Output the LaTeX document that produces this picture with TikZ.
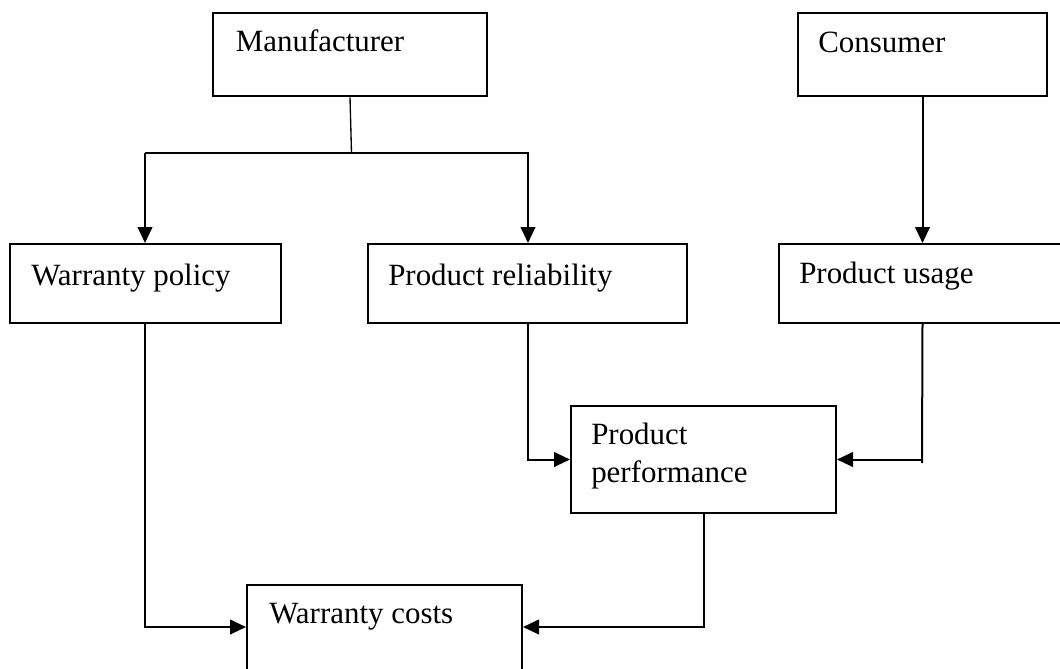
\documentclass[tikz,border=0pt]{standalone}
\usepackage{fontspec}
\setmainfont{Liberation Serif}
\usetikzlibrary{arrows.meta}
\begin{document}
\begin{tikzpicture}[x=0.75pt,y=-0.75pt,
  box/.style={draw, line width=1.5pt, rectangle, inner sep=0pt},
  txt/.style={anchor=base west, inner sep=0pt, font=\fontsize{23.2}{28.5}\selectfont},
  conn/.style={line width=1.5pt},
  arr/.style={conn, -{Triangle[length=12pt,width=11pt]}}]
\useasboundingbox (0,0) rectangle (1060,668);
\clip (0,0) rectangle (1060,668);
% boxes
\node[box, minimum width=205.5pt, minimum height=62.7pt] (man) at (350,54.5) {};
\node[box, minimum width=186.75pt, minimum height=62.7pt] (con) at (922.5,54.5) {};
\node[box, minimum width=203.25pt, minimum height=59.25pt] (wp) at (145,283.5) {};
\node[box, minimum width=239.6pt, minimum height=59.25pt] (pr) at (527.7,283.5) {};
\node[box, minimum width=240.75pt, minimum height=59.25pt] (pu) at (939.5,283.5) {};
\node[box, minimum width=198.75pt, minimum height=80.25pt] (pp) at (703.5,459.5) {};
\node[box, minimum width=206.25pt, minimum height=86.25pt] (wc) at (384.5,642.5) {};
% texts
\node[txt] (mant) at (235.6,51.7) {Manufacturer};
\node[txt] (cont) at (818,52) {Consumer};
\node[txt] (wpt) at (31,285) {Warranty policy};
\node[txt] (prt) at (388,285) {Product reliability};
\node[txt] (put) at (799,283) {Product usage};
\node[txt] (ppt1) at (591,444) {Product};
\node[txt] (ppt2) at (591,482) {performance};
\node[txt] (wct) at (269,623) {Warranty costs};
% connectors
\coordinate (split) at (351.5,153);
\draw[line width=1pt] (man.south) -- (split);
\draw[arr] (145,153) -- (wp.north);
\draw[arr] (145,153) -- (528,153) -- (pr.north -| 528,0);
\draw[arr] (con.south) -- (con.south |- pu.north);
\coordinate (puout) at (con.south |- pu.south);
\draw[conn] (puout) -- (922,463);
\draw[arr] (922,459.5) -- (pp.east);
\draw[arr] (pr.south -| 528,0) |- (pp.west);
\coordinate (wcl) at ([yshift=-32.25pt]wc.north west);
\coordinate (wcr) at ([yshift=-32.25pt]wc.north east);
\draw[arr] (wp.south) |- (wcl);
\draw[arr] (pp.south) |- (wcr);
\end{tikzpicture}
\end{document}
